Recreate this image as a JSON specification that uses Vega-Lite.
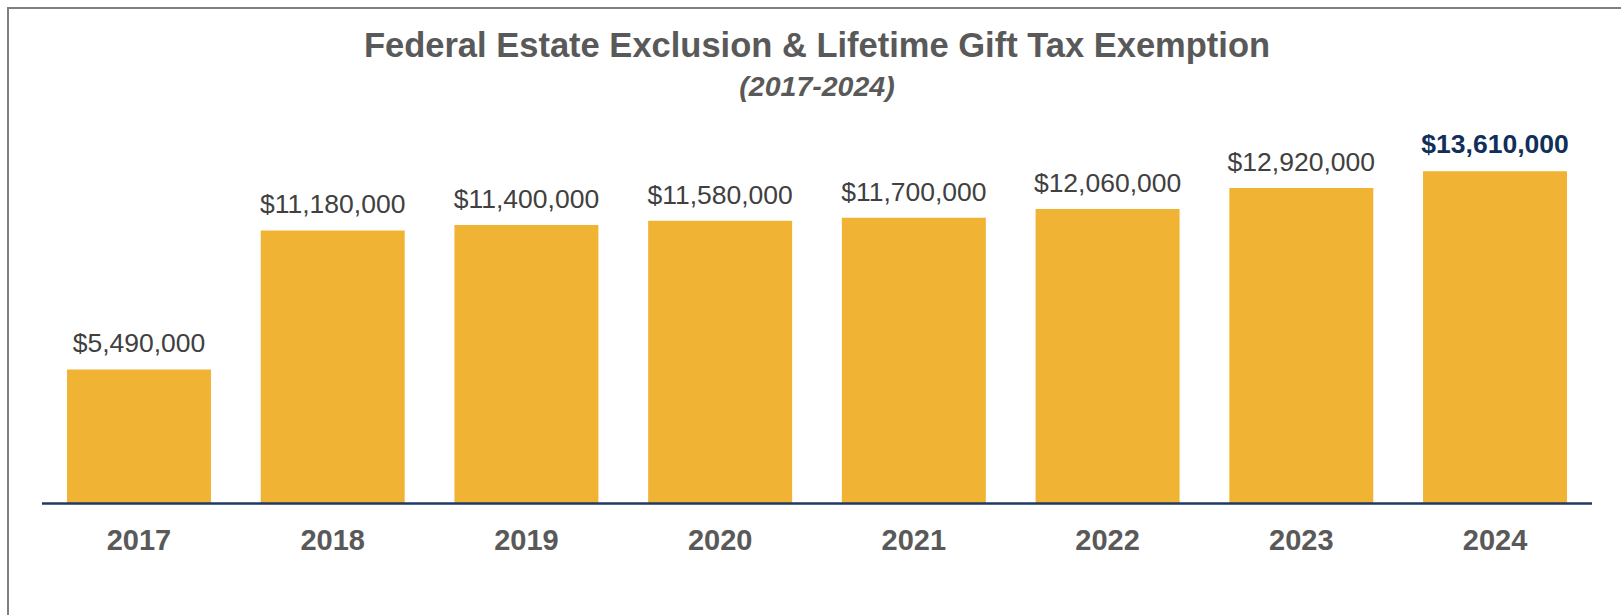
{
  "$schema": "https://vega.github.io/schema/vega-lite/v6.json",
  "autosize": {"type": "none"},
  "padding": {"left": 8, "top": 8, "right": -5, "bottom": -5},
  "width": 1618,
  "height": 612,
  "background": "white",
  "config": {"view": {"stroke": "#808080", "strokeWidth": 2}, "font": "Liberation Sans"},
  "title": {
    "text": "Federal Estate Exclusion & Lifetime Gift Tax Exemption",
    "subtitle": "(2017-2024)",
    "anchor": "middle",
    "frame": "group",
    "orient": "top",
    "offset": -94,
    "font": "Liberation Sans",
    "fontSize": 34.5,
    "fontWeight": "bold",
    "color": "#595959",
    "subtitleFont": "Liberation Sans",
    "subtitleFontSize": 28.5,
    "subtitleFontWeight": "bold",
    "subtitleFontStyle": "italic",
    "subtitleColor": "#595959",
    "subtitlePadding": 8
  },
  "data": {
    "values": [
      {"year": "2017", "value": 5490000},
      {"year": "2018", "value": 11180000},
      {"year": "2019", "value": 11400000},
      {"year": "2020", "value": 11580000},
      {"year": "2021", "value": 11700000},
      {"year": "2022", "value": 12060000},
      {"year": "2023", "value": 12920000},
      {"year": "2024", "value": 13610000}
    ]
  },
  "encoding": {
    "x": {
      "field": "year",
      "type": "ordinal",
      "sort": null,
      "scale": {"paddingInner": 0.2568, "paddingOuter": 0.3045},
      "axis": {
        "title": null,
        "orient": "bottom",
        "offset": -116.5,
        "domain": false,
        "ticks": false,
        "tickSize": 0,
        "grid": false,
        "labelPadding": 45.8,
        "labelBaseline": "alphabetic",
        "labelAngle": 0,
        "labelFont": "Liberation Sans",
        "labelFontSize": 29,
        "labelFontWeight": "bold",
        "labelColor": "#595959"
      }
    },
    "y": {
      "field": "value",
      "type": "quantitative",
      "scale": {"domain": [-4771000, 20291000], "nice": false, "zero": false},
      "axis": null
    }
  },
  "layer": [
    {
      "mark": {"type": "bar", "color": "#F0B334"},
      "encoding": {"y2": {"datum": 0}}
    },
    {
      "transform": [{"filter": "datum.year == '2017'"}],
      "mark": {"type": "rule", "color": "#1F3864", "strokeWidth": 2.5, "xOffset": -25, "x2Offset": 25},
      "encoding": {
        "x": {"datum": "2017", "bandPosition": 0},
        "x2": {"datum": "2024", "bandPosition": 1},
        "y": {"datum": 0}
      }
    },
    {
      "transform": [{"filter": "datum.year != '2024'"}],
      "mark": {"type": "text", "baseline": "alphabetic", "dy": -17, "fontSize": 26.5, "color": "#404040", "font": "Liberation Sans"},
      "encoding": {"text": {"field": "value", "type": "quantitative", "format": "$,.0f"}}
    },
    {
      "transform": [{"filter": "datum.year == '2024'"}],
      "mark": {"type": "text", "baseline": "alphabetic", "dy": -18, "fontSize": 26.5, "fontWeight": "bold", "color": "#102F5A", "font": "Liberation Sans"},
      "encoding": {"text": {"field": "value", "type": "quantitative", "format": "$,.0f"}}
    }
  ]
}
